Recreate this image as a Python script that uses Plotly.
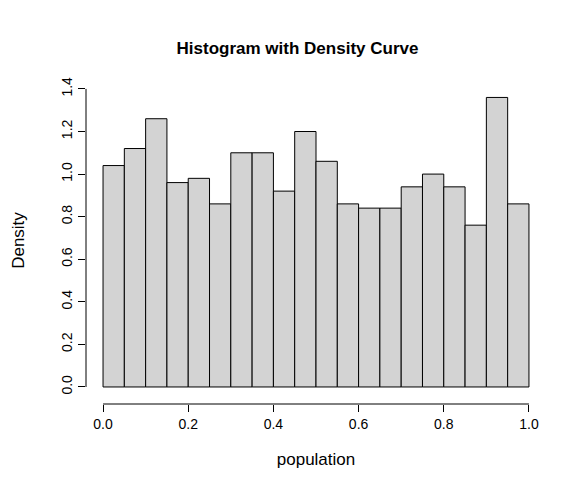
import plotly.graph_objects as go

bin_starts = [i * 0.05 for i in range(20)]
densities = [1.04, 1.12, 1.26, 0.96, 0.98, 0.86, 1.10, 1.10, 0.92, 1.20,
             1.06, 0.86, 0.84, 0.84, 0.94, 1.00, 0.94, 0.76, 1.36, 0.86]
x_ticks = [0.0, 0.2, 0.4, 0.6, 0.8, 1.0]
y_ticks = [0.0, 0.2, 0.4, 0.6, 0.8, 1.0, 1.2, 1.4]

fig = go.Figure(go.Bar(
    x=[s + 0.025 for s in bin_starts], y=densities, width=0.05,
    marker=dict(color="#d3d3d3", line=dict(color="black", width=1))))

font = dict(family="Liberation Sans, Arial", size=14, color="black")
fig.update_layout(
    width=579, height=489, plot_bgcolor="white", paper_bgcolor="white",
    margin=dict(l=78, r=41, t=69, b=93, autoexpand=False), showlegend=False, font=font,
    title=dict(text="<b>Histogram with Density Curve</b>", x=0.5, xanchor="center",
               y=1 - 40 / 489, yanchor="middle", font=dict(size=17)),
    xaxis=dict(range=[-0.04, 1.04], tickvals=x_ticks, automargin=False,
               ticktext=[f"{v:.1f}" for v in x_ticks], ticks="outside", ticklen=7,
               tickcolor="black", showgrid=False, zeroline=False, showline=False,
               title=dict(text="population", standoff=22)),
    yaxis=dict(range=[-0.08, 1.456], tickvals=y_ticks, automargin=False,
               ticktext=[f"{v:.1f}" for v in y_ticks], ticks="outside", ticklen=7,
               tickcolor="black", tickangle=-90, showgrid=False, zeroline=False,
               showline=False, title=dict(text="Density", standoff=30)),
)
fig.add_shape(type="line", xref="x", yref="paper", x0=0, x1=1, y0=0, y1=0,
              line=dict(color="black", width=1))
fig.add_shape(type="line", xref="paper", yref="y", x0=0, x1=0, y0=0, y1=1.4,
              line=dict(color="black", width=1))
fig.write_html("out.html")
